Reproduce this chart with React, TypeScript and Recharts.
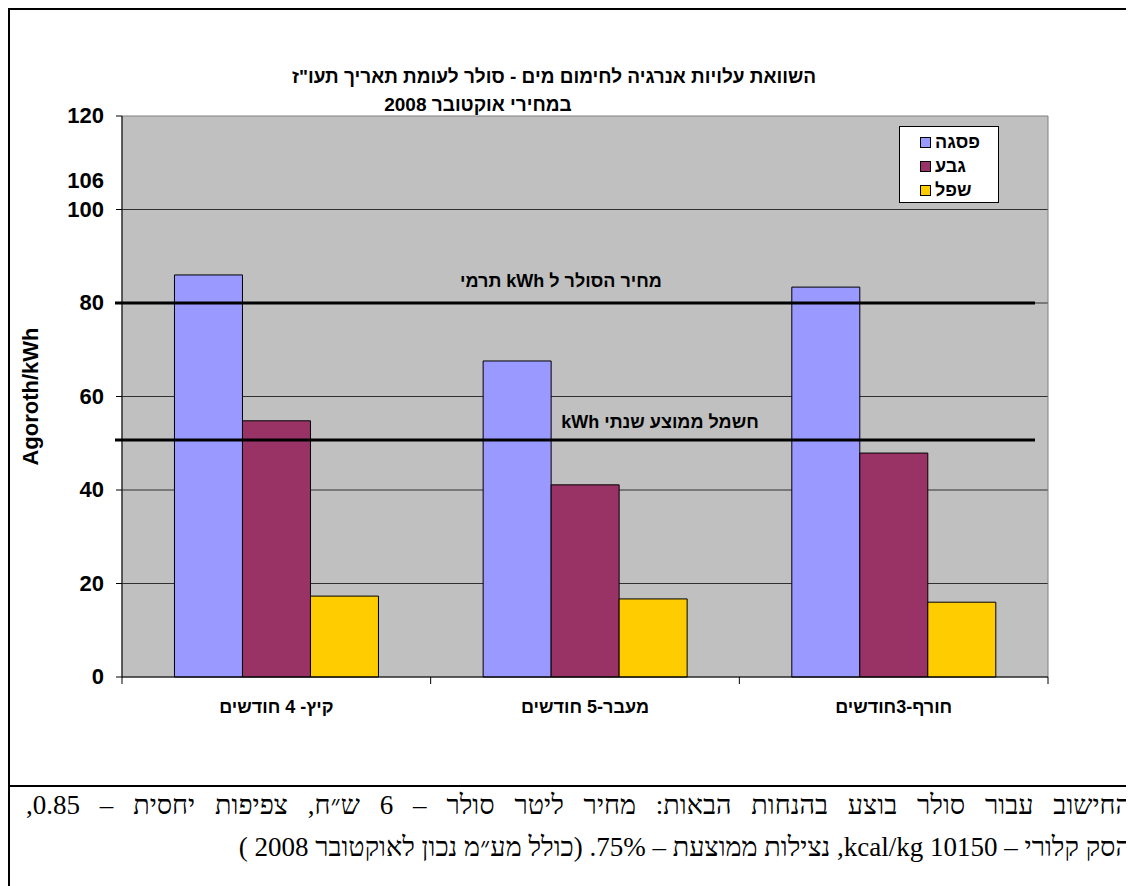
import React from 'react';
import {
  BarChart,
  Bar,
  XAxis,
  YAxis,
  CartesianGrid,
  ReferenceLine,
  ReferenceArea,
  Label,
} from 'recharts';

// קטגוריות וערכים (אגורות לקוט"ש)
const categories = ['קיץ- 4 חודשים', 'מעבר-5 חודשים', 'חורף-3חודשים'];
const peakValues = [86, 67.6, 83.4];
const shoulderValues = [54.8, 41.1, 47.9];
const offPeakValues = [17.3, 16.7, 16.0];

const seriesNames = ['פסגה', 'גבע', 'שפל'];
const seriesKeys = ['peak', 'shoulder', 'offPeak'];
const seriesColors = ['#9999FF', '#993366', '#FFCC00'];

const yTicks = [0, 20, 40, 60, 80, 100, 106, 120];
const gridValues = [20, 40, 60, 80, 100];

const solarPrice = 80;
const avgElectricity = 50.7;

const titleLine1 = 'השוואת עלויות  אנרגיה לחימום מים - סולר לעומת תאריך תעו"ז';
const titleLine2 = 'במחירי אוקטובר 2008';
const solarLabel = 'מחיר הסולר ל kWh תרמי';
const electricityLabel = 'חשמל ממוצע שנתי kWh';
const noteLine1 = 'החישוב עבור סולר בוצע בהנחות הבאות: מחיר ליטר סולר –  6 ש״ח, צפיפות יחסית – 0.85,';
const noteLine2 = 'הסק קלורי – 10150 kcal/kg, נצילות ממוצעת – 75%.  (כולל מע״מ נכון לאוקטובר 2008 )';

const data = categories.map((name, i) => ({
  name,
  peak: peakValues[i],
  shoulder: shoulderValues[i],
  offPeak: offPeakValues[i],
}));

const CHART_W = 1124;
const CHART_H = 775;
const MARGIN = { top: 106, right: 86, bottom: 68, left: 52 };
const Y_AXIS_W = 60;
const X_AXIS_H = 40;
const PLOT_W = CHART_W - MARGIN.left - MARGIN.right - Y_AXIS_W;
const BAND = PLOT_W / categories.length;

const FONT = '"Liberation Sans", Arial, sans-serif';
const FS = 18;
const AXIS_FS = 22;

const YTick = (props: any) => {
  const { x, y, payload } = props;
  const v = payload.value;
  return (
    <g>
      {v !== 106 && <line x1={x + 2} y1={y} x2={x + 8} y2={y} stroke="#000" />}
      <text
        x={x - 10}
        y={y}
        dy={7}
        textAnchor="end"
        fontFamily={FONT}
        fontWeight="bold"
        fontSize={AXIS_FS}
        fill="#000"
      >
        {v}
      </text>
    </g>
  );
};

const XTick = (props: any) => {
  const { x, y, payload, index } = props;
  const last = index === categories.length - 1;
  return (
    <g>
      <line x1={x - BAND / 2} y1={y - 8} x2={x - BAND / 2} y2={y - 1} stroke="#000" />
      {last && <line x1={x + BAND / 2} y1={y - 8} x2={x + BAND / 2} y2={y - 1} stroke="#000" />}
      <text
        x={x}
        y={y}
        dy={28}
        textAnchor="middle"
        direction="rtl"
        fontFamily={FONT}
        fontWeight="bold"
        fontSize={FS}
        fill="#000"
      >
        {payload.value}
      </text>
    </g>
  );
};

const lineLabel = (text: string, dx: number, dy: number) => (props: any) => {
  const vb = props.viewBox || {};
  return (
    <text
      x={vb.x + vb.width / 2 + dx}
      y={vb.y + dy}
      textAnchor="middle"
      direction="rtl"
      fontFamily={FONT}
      fontWeight="bold"
      fontSize={FS}
      fill="#000"
    >
      {text}
    </text>
  );
};

const yAxisLabel = (props: any) => {
  const vb = props.viewBox || {};
  const cx = vb.x - 32;
  const cy = vb.y + vb.height / 2;
  return (
    <text
      x={cx}
      y={cy}
      transform={`rotate(-90, ${cx}, ${cy})`}
      textAnchor="middle"
      dominantBaseline="central"
      fontFamily={FONT}
      fontWeight="bold"
      fontSize={AXIS_FS}
      fill="#000"
    >
      Agoroth/kWh
    </text>
  );
};

const thickLine = (props: any) => (
  <line x1={props.x1 - 7} y1={props.y1} x2={props.x2 - 13} y2={props.y2} stroke="#000" strokeWidth={3} />
);

export default function App() {
  return (
    <div
      style={{
        width: 1126,
        height: 878,
        borderLeft: '2px solid #000',
        borderTop: '2px solid #000',
        boxSizing: 'border-box',
        position: 'relative',
        background: '#fff',
        overflow: 'hidden',
      }}
    >
      <div style={{ position: 'relative', width: CHART_W, height: CHART_H }}>
        <BarChart
          width={CHART_W}
          height={CHART_H}
          data={data}
          margin={MARGIN}
          barCategoryGap="17%"
          barGap={0}
        >
          <CartesianGrid
            fill="#C0C0C0"
            vertical={false}
            horizontalValues={gridValues}
            stroke="#303030"
            strokeWidth={1}
          />
          <ReferenceArea y1={0} y2={120} fill="none" stroke="#808080" strokeWidth={1} />
          <XAxis
            dataKey="name"
            height={X_AXIS_H}
            axisLine={{ stroke: '#000' }}
            tickLine={false}
            tick={<XTick />}
            interval={0}
          />
          <YAxis
            width={Y_AXIS_W}
            domain={[0, 120]}
            ticks={yTicks}
            interval={0}
            axisLine={{ stroke: '#000' }}
            tickLine={false}
            tick={<YTick />}
          >
            <Label content={yAxisLabel} />
          </YAxis>
          {seriesKeys.map((k, i) => (
            <Bar
              key={k}
              dataKey={k}
              name={seriesNames[i]}
              fill={seriesColors[i]}
              stroke="#000"
              strokeWidth={1}
              isAnimationActive={false}
            />
          ))}
          <ReferenceLine
            y={solarPrice}
            shape={thickLine}
            label={{ content: lineLabel(solarLabel, -24, -16) }}
          />
          <ReferenceLine
            y={avgElectricity}
            shape={thickLine}
            label={{ content: lineLabel(electricityLabel, 75, -12) }}
          />
        </BarChart>

        {/* כותרת */}
        <div
          style={{
            position: 'absolute',
            left: 544 - 350,
            top: 57,
            width: 700,
            textAlign: 'center',
            direction: 'rtl',
            fontFamily: FONT,
            fontWeight: 'bold',
            fontSize: 19,
            lineHeight: '20px',
          }}
        >
          {titleLine1}
        </div>
        <div
          style={{
            position: 'absolute',
            left: 468 - 150,
            top: 85,
            width: 300,
            textAlign: 'center',
            direction: 'rtl',
            fontFamily: FONT,
            fontWeight: 'bold',
            fontSize: 19,
            lineHeight: '20px',
          }}
        >
          {titleLine2}
        </div>

        {/* מקרא */}
        <div
          style={{
            position: 'absolute',
            left: 889,
            top: 116,
            width: 100,
            height: 77,
            boxSizing: 'border-box',
            border: '1px solid #000',
            background: '#fff',
            paddingTop: 3,
            paddingLeft: 20,
            fontFamily: FONT,
            fontWeight: 'bold',
            fontSize: FS,
          }}
        >
          {seriesNames.map((n, i) => (
            <div key={n} style={{ display: 'flex', alignItems: 'center', height: 24 }}>
              <span
                style={{
                  display: 'inline-block',
                  width: 9,
                  height: 9,
                  border: '1px solid #000',
                  background: seriesColors[i],
                  marginRight: 4,
                  flexShrink: 0,
                }}
              />
              <span style={{ direction: 'rtl', lineHeight: '20px' }}>{n}</span>
            </div>
          ))}
        </div>
      </div>

      {/* הערות */}
      <div
        style={{
          borderTop: '2px solid #000',
          width: CHART_W,
          boxSizing: 'border-box',
          direction: 'rtl',
          fontFamily: '"Liberation Serif", "Times New Roman", serif',
          fontSize: 27,
        }}
      >
        <div
          style={{
            height: 42,
            lineHeight: '36px',
            paddingRight: 3,
            paddingLeft: 16,
            textAlign: 'justify',
            textAlignLast: 'justify',
            whiteSpace: 'nowrap',
          }}
        >
          {noteLine1}
        </div>
        <div
          style={{
            height: 42,
            lineHeight: '36px',
            paddingRight: 3,
            textAlign: 'right',
            whiteSpace: 'nowrap',
          }}
        >
          {noteLine2}
        </div>
      </div>
    </div>
  );
}
